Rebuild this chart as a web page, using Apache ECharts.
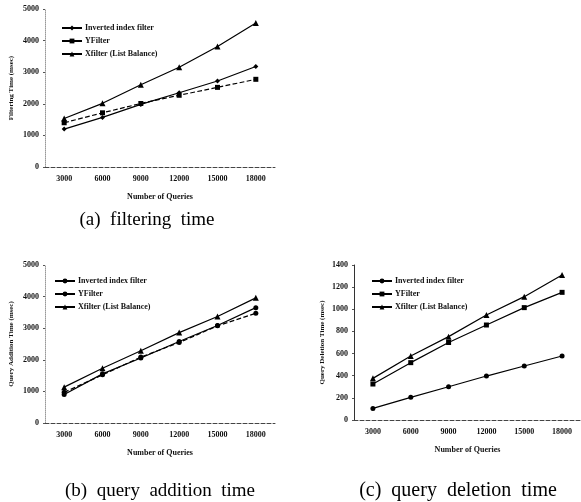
<!DOCTYPE html>
<html><head><meta charset="utf-8">
<script src="https://cdn.jsdelivr.net/npm/echarts@6/dist/echarts.min.js"></script>
<style>html,body{margin:0;padding:0;background:#fff}#c{width:581px;height:502px}</style>
</head><body><div id="c"></div>
<script>
const categories = ['3000','6000','9000','12000','15000','18000'];
const seriesNames = ['Inverted index filter','YFilter','Xfilter (List Balance)'];
// (a) filtering time
const filterInverted = [1200, 1570, 1980, 2350, 2720, 3180];
const filterYFilter  = [1400, 1715, 2010, 2270, 2520, 2775];
const filterXfilter  = [1535, 2015, 2605, 3155, 3815, 4555];
// (b) query addition time
const addInverted = [900, 1555, 2055, 2580, 3085, 3650];
const addYFilter  = [970, 1525, 2085, 2545, 3075, 3470];
const addXfilter  = [1135, 1735, 2285, 2860, 3370, 3960];
// (c) query deletion time
const delInverted = [105, 205, 300, 397, 488, 578];
const delYFilter  = [325, 518, 700, 858, 1015, 1153];
const delXfilter  = [376, 578, 753, 949, 1114, 1310];
const captions = ['(a)  filtering  time', '(b)  query  addition  time', '(c)  query  deletion  time'];
const yNames = ['Filtering Time (msec)', 'Query Addition Time (msec)', 'Query Deletion Time (msec)'];
const xName = 'Number of Queries';

const serif = 'Liberation Serif';
const chart = echarts.init(document.getElementById('c'));
const grids = [
  {left: 45, top: 9, width: 230, height: 158},
  {left: 45, top: 265, width: 230, height: 158},
  {left: 354, top: 265, width: 229, height: 155}
];
const yCfg = [{max: 5000, interval: 1000}, {max: 5000, interval: 1000}, {max: 1400, interval: 200}];
const xAxes = grids.map((g, i) => ({
  type: 'category', gridIndex: i, data: categories, boundaryGap: true,
  name: xName, nameLocation: 'middle', nameGap: 26,
  nameTextStyle: {fontFamily: serif, fontSize: 8, fontWeight: 'bold', color: '#111'},
  axisLine: {lineStyle: {color: '#444', type: 'dashed', width: 1}},
  axisTick: {show: false},
  axisLabel: {fontFamily: serif, fontSize: 8, fontWeight: 'bold', color: '#111', margin: 8}
}));
const yAxes = grids.map((g, i) => ({
  type: 'value', gridIndex: i, min: 0, max: yCfg[i].max, interval: yCfg[i].interval,
  name: yNames[i], nameLocation: 'middle', nameGap: i === 2 ? 28 : 30, nameRotate: 90,
  nameTextStyle: {fontFamily: serif, fontSize: 7, fontWeight: 'bold', color: '#111'},
  axisLine: {show: true, lineStyle: {color: i === 2 ? '#333' : '#999', type: i === 2 ? 'solid' : 'dotted', width: 1}},
  axisTick: {show: true, length: 2, lineStyle: {color: '#555'}},
  splitLine: {show: false},
  axisLabel: {fontFamily: serif, fontSize: 8, fontWeight: 'bold', color: '#111', margin: 6,
    formatter: v => String(v)}
}));
const tags = ['#a', '#b', '#c'];
function mk(k, data, i, symbol, dashed) {
  return {
    name: seriesNames[k] + tags[i], type: 'line', xAxisIndex: i, yAxisIndex: i, data: data,
    symbol: symbol, symbolSize: symbol === 'triangle' ? 6 : 5,
    lineStyle: {color: '#000', width: 1.2, type: dashed ? 'dashed' : 'solid'},
    itemStyle: {color: '#000'}, animation: false
  };
}
const series = [
  mk(0, filterInverted, 0, 'diamond', false),
  mk(1, filterYFilter, 0, 'rect', true),
  mk(2, filterXfilter, 0, 'triangle', false),
  mk(0, addInverted, 1, 'circle', false),
  mk(1, addYFilter, 1, 'circle', true),
  mk(2, addXfilter, 1, 'triangle', false),
  mk(0, delInverted, 2, 'circle', false),
  mk(1, delYFilter, 2, 'rect', false),
  mk(2, delXfilter, 2, 'triangle', false)
];
const legendPos = [{left: 56, top: 19}, {left: 49, top: 272}, {left: 366, top: 272}];
const legends = legendPos.map((p, i) => ({
  left: p.left, top: p.top, orient: 'vertical', itemGap: 5, itemWidth: 20, itemHeight: 6,
  selectedMode: false,
  data: seriesNames.map(n => n + tags[i]),
  formatter: name => name.slice(0, -2),
  textStyle: {fontFamily: serif, fontSize: 8, fontWeight: 'bold', color: '#111', padding: [0,0,0,-2]}
}));
const capPos = [[147, 220], [160, 491], [458, 491]];
const capSize = [19, 19, 20];
chart.setOption({
  backgroundColor: '#fff', animation: false,
  grid: grids, xAxis: xAxes, yAxis: yAxes, legend: legends, series: series,
  graphic: captions.map((t, i) => ({
    type: 'text', x: capPos[i][0], y: capPos[i][1],
    style: {text: t, fontFamily: serif, fontSize: capSize[i], fill: '#000', align: 'center', verticalAlign: 'middle'}
  }))
});
</script></body></html>
